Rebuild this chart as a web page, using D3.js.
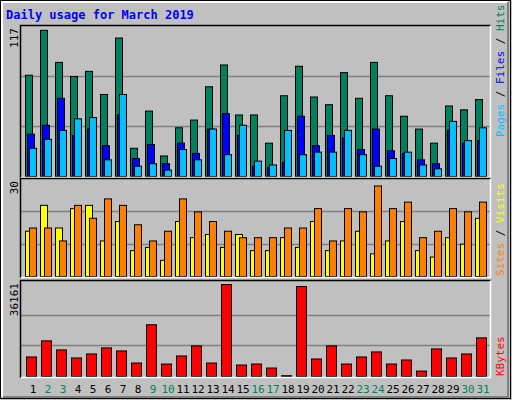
<!DOCTYPE html>
<html>
<head>
<meta charset="utf-8" />
<script src="https://d3js.org/d3.v7.min.js"></script>
<style>
  body { margin: 0; background: #c0c0c0; }
  text { font-family: "DejaVu Sans Mono", monospace; }
</style>
</head>
<body>
<svg id="chart" width="512" height="400"></svg>
<script>
var days = d3.range(1, 32);
var weekend = [2, 3, 9, 10, 16, 17, 23, 24, 30, 31];
var hits  = [79,114,89,78,82,64,108,22,51,16,38,44,70,87,48,48,26,63,86,62,56,81,61,89,63,47,37,26,55,52,60];
var files = [33,40,61,32,37,24,48,14,25,10,26,18,37,49,32,8,7,11,47,24,32,30,21,37,20,18,13,10,36,26,28];
var pages = [22,29,36,45,46,13,64,8,10,5,21,13,37,17,40,12,9,36,17,19,19,36,17,8,14,19,9,6,43,28,38];
var visits = [14,22,15,21,22,11,17,8,9,5,17,12,13,9,13,8,8,12,9,17,8,11,14,7,11,17,8,6,12,10,18];
var sites  = [15,15,11,22,18,24,22,16,11,14,24,20,17,14,12,12,12,15,15,21,11,21,20,28,21,23,12,14,21,20,23];
var kbytes = [7675,14000,10445,7280,8862,11236,10049,5301,20335,4906,8071,12027,5301,36161,4510,4906,3323,300,35370,6884,12027,4906,7675,9653,4906,6488,2136,10840,7280,8862,15192];
var maxLabels = ["117", "30", "36161"];

var svg = d3.select("#chart");

// outer frame
svg.append("rect").attr("x", 0.5).attr("y", 0.5).attr("width", 510).attr("height", 398)
  .attr("fill", "#c0c0c0").attr("stroke", "#000");
svg.append("path").attr("d", "M2,397V2H508").attr("fill", "none").attr("stroke", "#fff").attr("stroke-width", 2);
svg.append("path").attr("d", "M3,397H508V2").attr("fill", "none").attr("stroke", "#808080").attr("stroke-width", 2);

svg.append("text").attr("x", 6).attr("y", 19).attr("fill", "#0000ff")
  .attr("font-weight", "bold").attr("font-size", 12).text("Daily usage for March 2019");

var x = d3.scaleBand().domain(days).range([20, 491]).paddingInner(0).paddingOuter(0.15);
var base = function (d) { return 25 + (d - 1) * 15; };

var panels = [
  { y0: 25, y1: 177, max: 117 },
  { y0: 178, y1: 277, max: 30 },
  { y0: 280, y1: 377, max: 36161 }
];

panels.forEach(function (p, i) {
  svg.append("rect").attr("x", 20).attr("y", p.y0).attr("width", 471).attr("height", p.y1 - p.y0)
    .attr("fill", "#c0c0c0");
  p.scale = d3.scaleLinear().domain([0, p.max]).range([p.y1 - 1, p.y0 + 1]);
  if (i == 2) p.scale.range([p.y1 - 1, p.y0 + 4]);
  [1 / 3, 2 / 3].forEach(function (f) {
    var yy = Math.round(p.scale(p.max * f)) + 0.5;
    svg.append("line").attr("x1", 20).attr("x2", 491).attr("y1", yy).attr("y2", yy)
      .attr("stroke", "#808080").attr("stroke-width", 1.5);
  });
  svg.append("text").attr("transform", "translate(18," + (p.y0 + 3) + ") rotate(-90)")
    .attr("text-anchor", "end").attr("font-size", 11).text(maxLabels[i]);
});

function bars(data, p, off, w, color) {
  svg.append("g").selectAll("rect").data(data).enter().append("rect")
    .attr("x", function (d, i) { return base(i + 1) + off + 0.5; })
    .attr("y", function (d) { return p.scale(d) + 0.5; })
    .attr("width", w)
    .attr("height", function (d) { return p.y1 - 1 - p.scale(d); })
    .attr("fill", color).attr("stroke", "#000").attr("stroke-width", 1);
}
bars(hits, panels[0], 0, 7, "#00805c");
bars(files, panels[0], 2, 7, "#0000ff");
bars(pages, panels[0], 4, 7, "#00c0ff");
bars(visits, panels[1], 0, 7, "#ffff00");
bars(sites, panels[1], 4, 7, "#ff8000");
bars(kbytes, panels[2], 1, 10, "#ff0000");

// panel borders (inset look)
panels.forEach(function (p) {
  svg.append("path").attr("d", "M20.5," + (p.y1 + 0.5) + "V" + (p.y0 + 0.5) + "H491")
    .attr("fill", "none").attr("stroke", "#000").attr("stroke-width", 1.5);
  svg.append("path").attr("d", "M21," + (p.y1 + 0.5) + "H490.5V" + (p.y0 + 0.5))
    .attr("fill", "none").attr("stroke", "#fff").attr("stroke-width", 1.5);
});

// day labels
svg.append("g").selectAll("text").data(days).enter().append("text")
  .attr("x", function (d) { return base(d) + 8; })
  .attr("y", 393).attr("text-anchor", "middle").attr("font-size", 11)
  .attr("fill", function (d) { return weekend.indexOf(d) >= 0 ? "#00805c" : "#000"; })
  .text(function (d) { return d; });

// right side legends
function legend(parts, yEnd) {
  var t = svg.append("text").attr("transform", "translate(504," + yEnd + ") rotate(-90)")
    .attr("font-size", 11);
  parts.forEach(function (q) { t.append("tspan").attr("fill", q[1]).text(q[0]); });
}
legend([["Pages", "#00c0ff"], [" / ", "#000"], ["Files", "#0000ff"], [" / ", "#000"], ["Hits", "#00805c"]], 137);
legend([["Sites", "#ff8000"], [" / ", "#000"], ["Visits", "#ffff00"]], 276);
legend([["KBytes", "#ff0000"]], 376);
</script>
</body>
</html>
